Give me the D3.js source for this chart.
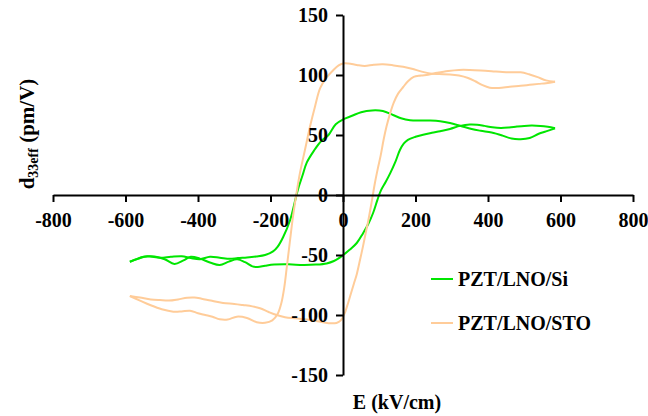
<!DOCTYPE html>
<html>
<head>
<meta charset="utf-8">
<script src="https://cdn.jsdelivr.net/npm/d3@7/dist/d3.min.js"></script>
<style>
  html, body { margin: 0; padding: 0; background: #fff; }
  svg { display: block; }
  text { font-family: "Liberation Serif", "Times New Roman", serif; font-weight: bold; fill: #000; }
</style>
</head>
<body>
<svg id="chart" width="648" height="416"></svg>
<script>
// ---- Data (E in kV/cm, d33eff in pm/V) ----
const seriesNames = ["PZT/LNO/Si", "PZT/LNO/STO"];
const seriesColors = ["#00e600", "#ffcc99"];
const xTicks = [-800, -600, -400, -200, 0, 200, 400, 600, 800];
const yTicks = [-150, -100, -50, 0, 50, 100, 150];

// PZT/LNO/Si : branch swept from +E max down to -E max
const siDescending = [
  [585, 55.6], [560, 53], [540, 51], [515, 47.5], [490, 46.5], [465, 47], [440, 49.5],
  [410, 52], [380, 53.5], [355, 55], [325, 57.5], [295, 60], [268, 61.5], [240, 62],
  [212, 62], [185, 62.3], [160, 64], [138, 66.7], [110, 70], [80, 70.5], [50, 69],
  [25, 66], [0, 63], [-20, 59], [-40, 50], [-60, 45], [-80, 37], [-100, 27], [-112, 16],
  [-122, 7], [-130, -2], [-146, -21], [-165, -35], [-180, -43], [-193, -47], [-215, -50],
  [-240, -51.2], [-265, -52], [-290, -52.5], [-312, -53.2], [-340, -52.2], [-367, -51.4],
  [-395, -53.5], [-420, -52.5], [-445, -51], [-475, -51.5], [-505, -52.3], [-540, -51],
  [-565, -53], [-588, -55.6]
];
// PZT/LNO/Si : branch swept from -E max up to +E max
const siAscending = [
  [-588, -55.6], [-570, -53.5], [-550, -51.5], [-520, -51.3], [-492, -53.5], [-465, -57.5],
  [-440, -54.5], [-420, -51.5], [-395, -53], [-365, -56.5], [-340, -58.3], [-315, -55.5],
  [-292, -53.6], [-270, -56], [-250, -59.5], [-235, -60], [-215, -59], [-190, -58],
  [-150, -57.8], [-110, -58.3], [-75, -58], [-45, -57], [-25, -55], [-8, -52],
  [5, -49], [19, -45.5], [38, -40], [55, -32], [70, -24], [83, -15], [95, -4], [105, 4],
  [118, 11], [130, 18], [145, 28], [157, 37.5], [168, 43], [179, 46], [200, 48.5],
  [221, 50.2], [245, 51.8], [268, 53.2], [295, 55], [323, 57.6], [350, 58.8], [370, 58.6],
  [390, 57.6], [412, 56.4], [435, 55.8], [458, 56.2], [480, 57], [500, 57.6], [520, 57.9],
  [545, 57.6], [565, 56.8], [585, 55.6]
];

// PZT/LNO/STO : branch swept from +E max down to -E max
const stoDescending = [
  [585, 94.4], [560, 93.2], [540, 92.6], [515, 91.8], [490, 91], [460, 90.2], [430, 89.2],
  [405, 89.4], [385, 91.5], [365, 94.8], [345, 97.5], [320, 99.5], [295, 100.5], [265, 100.8],
  [240, 101.2], [215, 103], [190, 105.2], [166, 106.8], [140, 108], [110, 109], [85, 108.6],
  [60, 107.6], [38, 108.4], [15, 109.6], [0, 109.6], [-12, 108], [-27, 104], [-45, 98],
  [-63, 89], [-77, 74], [-91, 57], [-105, 37.5], [-119, 18], [-128, 2], [-138, -18],
  [-147, -40], [-155, -60], [-162, -77], [-170, -90], [-180, -99], [-195, -104.5],
  [-215, -106.5], [-238, -106], [-265, -102.5], [-293, -101.4], [-318, -103.8],
  [-340, -103.6], [-360, -101.5], [-380, -100], [-400, -98.5], [-422, -96.4], [-445, -97],
  [-468, -97.2], [-500, -95.2], [-532, -91.7], [-560, -88], [-588, -84.2]
];
// PZT/LNO/STO : branch swept from -E max up to +E max
const stoAscending = [
  [-588, -84.2], [-560, -85.5], [-530, -87], [-505, -87.6], [-480, -88], [-455, -87],
  [-430, -85.6], [-410, -85.4], [-390, -86.4], [-365, -88], [-331, -90], [-300, -90.8],
  [-276, -91.7], [-250, -92.8], [-229, -94.4], [-205, -97.5], [-183, -100], [-160, -101.8],
  [-130, -102.8], [-100, -103.8], [-70, -105.2], [-40, -106.8], [-18, -106.6], [-6, -104.5],
  [4, -99], [12, -92], [20, -84], [30, -74], [38, -66], [47, -54], [55, -43], [63, -31],
  [70, -21], [79, -6], [88, 10], [96, 22], [104, 33], [112, 46], [120, 57], [130, 68],
  [140, 77], [152, 84.5], [166, 90], [180, 95], [195, 98.4], [215, 99.5], [235, 100.3],
  [260, 101.8], [290, 103.3], [320, 104.2], [350, 104.2], [380, 103.8], [410, 103.2],
  [440, 102.5], [470, 102.2], [490, 102.2], [513, 100.6], [537, 98.2], [560, 95.5], [585, 94.4]
];

const branches = [
  { data: siAscending, s: 0 }, { data: siDescending, s: 0 },
  { data: stoAscending, s: 1 }, { data: stoDescending, s: 1 }
];

// ---- Layout ----
const svg = d3.select("#chart");
const x = d3.scaleLinear().domain([-800, 800]).range([53, 633]);
const y = d3.scaleLinear().domain([-150, 150]).range([375, 15]);
const fontSize = 20;

// Curves
const line = d3.line()
  .x(d => x(d[0])).y(d => y(d[1]))
  .curve(d3.curveCatmullRom.alpha(0.5));

svg.append("g").selectAll("path")
  .data(branches)
  .join("path")
  .attr("d", d => line(d.data))
  .attr("fill", "none")
  .attr("stroke", d => seriesColors[d.s])
  .attr("stroke-width", 2)
  .attr("stroke-linejoin", "round");

// X axis at y=0
const xAxis = svg.append("g")
  .attr("transform", `translate(0,${y(0)})`)
  .call(d3.axisBottom(x).tickValues(xTicks).tickSize(7).tickSizeOuter(0).tickPadding(11)
    .tickFormat(d3.format("d")));
xAxis.select(".domain").attr("stroke", "#000").attr("stroke-width", 2);
xAxis.selectAll(".tick line").attr("stroke", "#000").attr("stroke-width", 2);
xAxis.selectAll(".tick text")
  .attr("font-size", fontSize).attr("font-family", null)
  .text(d => d < 0 ? "-" + Math.abs(d) : d);

// Y axis at x=0
const yAxis = svg.append("g")
  .attr("transform", `translate(${x(0)},0)`)
  .call(d3.axisLeft(y).tickValues(yTicks).tickSize(7).tickSizeOuter(0).tickPadding(8)
    .tickFormat(d3.format("d")));
yAxis.select(".domain").attr("stroke", "#000").attr("stroke-width", 2);
yAxis.selectAll(".tick line").attr("stroke", "#000").attr("stroke-width", 2);
yAxis.selectAll(".tick text")
  .attr("font-size", fontSize).attr("font-family", null)
  .text(d => d < 0 ? "-" + Math.abs(d) : d);

// Axis titles
svg.append("text")
  .attr("x", 397).attr("y", 409)
  .attr("text-anchor", "middle")
  .attr("font-size", fontSize)
  .text("E (kV/cm)");

const yt = svg.append("text")
  .attr("transform", "translate(34,134) rotate(-90)")
  .attr("text-anchor", "middle")
  .attr("font-size", 21);
yt.append("tspan").text("d");
yt.append("tspan").attr("font-size", 14).attr("dy", 4).text("33eff");
yt.append("tspan").attr("dy", -4).text(" (pm/V)");

// Legend
const legend = svg.append("g").selectAll("g")
  .data(seriesNames)
  .join("g")
  .attr("transform", (d, i) => `translate(431,${279 + i * 44})`);
legend.append("line")
  .attr("x1", 0).attr("x2", 22).attr("y1", 0).attr("y2", 0)
  .attr("stroke", (d, i) => seriesColors[i]).attr("stroke-width", 2);
legend.append("text")
  .attr("x", 27).attr("y", 7)
  .attr("font-size", fontSize)
  .text(d => d);
</script>
</body>
</html>
